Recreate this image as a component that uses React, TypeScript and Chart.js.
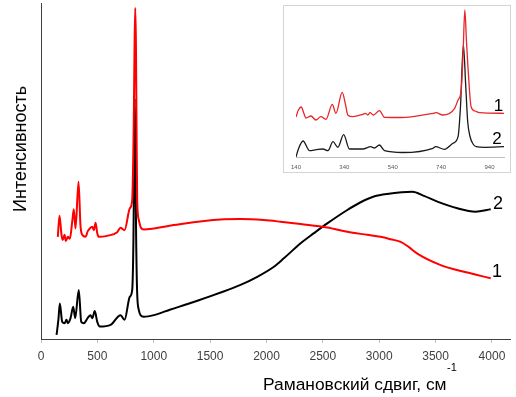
import React, { useEffect, useRef } from "react";
import { Chart, registerables } from "chart.js";

Chart.register(...registerables);

// ---------- Main chart data (Raman shift, cm^-1 ; intensity, arb. units) ----------
const redShift = [149, 164, 182, 193, 209, 220, 238, 256, 277, 291, 306, 333, 350, 366, 395, 415, 433, 454, 469, 484, 499, 513, 587, 676, 705, 741, 788, 809, 823, 830, 836, 842, 847, 853, 868, 883, 912, 1000, 1176, 1593, 1770, 1977, 2125, 2303, 2539, 2717, 2894, 3012, 3101, 3190, 3261, 3338, 3545, 3752, 3989];
const redIntensity = [30.4, 36.7, 31, 29.5, 31, 29.2, 30.4, 29.8, 34.9, 38.6, 32.9, 46.8, 33.9, 31, 30.4, 32.1, 32.9, 33.4, 32.4, 34.6, 31.5, 30.4, 30.7, 31.8, 33.1, 32.4, 38.9, 41.4, 65, 88, 98.5, 88, 65, 41.4, 35.4, 33.4, 32.6, 32.9, 33.9, 35.6, 35.7, 35.4, 34.9, 34.2, 33.2, 31.9, 31, 30.4, 29.7, 28.9, 27.4, 25.4, 22, 20, 18.1];

const blackShift = [138, 155, 167, 188, 209, 226, 238, 262, 286, 303, 335, 357, 380, 415, 439, 454, 477, 499, 522, 617, 706, 741, 788, 809, 820, 826, 832, 838, 844, 853, 868, 883, 912, 1001, 1149, 1326, 1770, 1918, 2066, 2154, 2303, 2421, 2539, 2717, 2835, 2953, 3101, 3200, 3294, 3397, 3516, 3693, 3855, 3989];
const blackIntensity = [1.2, 6, 10.6, 5.1, 4.7, 5.7, 4.7, 6.2, 9.6, 6.2, 14.6, 5.1, 4.7, 6.3, 7.1, 6.2, 8.3, 5.1, 3.7, 4.2, 7.1, 5.7, 12.6, 14.6, 30, 52, 71.6, 52, 30, 13.7, 8.6, 7.1, 6.6, 7.1, 8.8, 10.7, 16.1, 18.5, 21.5, 24, 28.5, 31.5, 34.4, 38.4, 40.7, 42.4, 43.3, 43.7, 43.8, 42.6, 40.9, 38.9, 37.9, 38.6];

const mainTickValues = [0, 500, 1000, 1500, 2000, 2500, 3000, 3500, 4000];

// ---------- Inset data (140–1000 cm^-1) ----------
const insetRedShift = [140, 150, 162, 172, 181, 202, 222, 243, 264, 290, 305, 331, 345, 354, 375, 416, 427, 437, 446, 460, 485, 506, 575, 706, 719, 747, 796, 810, 823, 831, 838, 845, 851, 864, 880, 899, 1000];
const insetRedIntensity = [40, 47, 50, 44, 39, 41, 37, 40.3, 37.7, 52.7, 43.7, 64.7, 52, 42, 40.3, 42.7, 43.7, 42, 44.3, 42, 46.3, 39.7, 39.5, 43.7, 44.3, 42, 48.7, 57, 67, 105, 147, 115, 90, 50.3, 46, 44.3, 43.7];

const insetBlackShift = [140, 150, 169, 196, 224, 251, 272, 293, 313, 337, 361, 416, 449, 464, 485, 506, 581, 706, 717, 754, 789, 810, 820, 832, 842, 850, 860, 872, 885, 920, 1000];
const insetBlackIntensity = [0, 8, 16, 6.3, 7.3, 8, 6.3, 15.3, 9.7, 22.3, 8, 8, 10.3, 9, 12, 6.3, 4.5, 8.7, 10.3, 7.7, 13.7, 20.3, 50, 112, 70, 35, 20, 13, 10.3, 9.7, 10.3];

const insetTickValues = [140, 340, 540, 740, 940];

const seriesLabels = ["1", "2"];

const toPoints = (xs: number[], ys: number[]) => xs.map((x, i) => ({ x, y: ys[i] }));

const FONT = "'Liberation Sans', Arial, sans-serif";

export default function App() {
  const mainRef = useRef<HTMLCanvasElement | null>(null);
  const insetRef = useRef<HTMLCanvasElement | null>(null);

  useEffect(() => {
    const mainChart = new Chart(mainRef.current as HTMLCanvasElement, {
      type: "line",
      data: {
        datasets: [
          {
            label: seriesLabels[0],
            data: toPoints(redShift, redIntensity),
            borderColor: "#ff0000",
            borderWidth: 2,
            pointRadius: 0,
            cubicInterpolationMode: "monotone",
            fill: false,
          },
          {
            label: seriesLabels[1],
            data: toPoints(blackShift, blackIntensity),
            borderColor: "#000000",
            borderWidth: 2,
            pointRadius: 0,
            cubicInterpolationMode: "monotone",
            fill: false,
          },
        ],
      },
      options: {
        animation: false,
        responsive: false,
        devicePixelRatio: 1,
        layout: { padding: { left: 41, top: 3, right: 6, bottom: 0 } },
        plugins: { legend: { display: false }, tooltip: { enabled: false } },
        events: [],
        scales: {
          x: {
            type: "linear",
            min: 0,
            max: 4160,
            afterBuildTicks: (s: any) => {
              s.ticks = mainTickValues.map((v) => ({ value: v }));
            },
            afterFit: (s: any) => {
              s.height = 58;
            },
            ticks: {
              color: "#404040",
              font: { family: FONT, size: 12 },
              padding: 6,
              maxRotation: 0,
              autoSkip: false,
              callback: (v: any) => String(v),
            },
            grid: { drawOnChartArea: false, drawTicks: true, tickLength: 4, color: "#bfbfbf" },
            border: { display: true, color: "#404040", width: 1 },
          },
          y: {
            type: "linear",
            min: 0,
            max: 100,
            ticks: { display: false },
            grid: { drawOnChartArea: false, drawTicks: false },
            border: { display: true, color: "#404040", width: 1 },
            afterFit: (s: any) => {
              s.width = 0;
            },
          },
        },
      },
    } as any);

    const insetChart = new Chart(insetRef.current as HTMLCanvasElement, {
      type: "line",
      data: {
        datasets: [
          {
            label: seriesLabels[0],
            data: toPoints(insetRedShift, insetRedIntensity),
            borderColor: "#e8262a",
            borderWidth: 1.3,
            pointRadius: 0,
            cubicInterpolationMode: "monotone",
            fill: false,
          },
          {
            label: seriesLabels[1],
            data: toPoints(insetBlackShift, insetBlackIntensity),
            borderColor: "#1a1a1a",
            borderWidth: 1.3,
            pointRadius: 0,
            cubicInterpolationMode: "monotone",
            fill: false,
          },
        ],
      },
      options: {
        animation: false,
        responsive: false,
        devicePixelRatio: 1,
        layout: { padding: { left: 12, top: 2, right: 6, bottom: 0 } },
        plugins: { legend: { display: false }, tooltip: { enabled: false } },
        events: [],
        scales: {
          x: {
            type: "linear",
            min: 140,
            max: 1000,
            afterBuildTicks: (s: any) => {
              s.ticks = insetTickValues.map((v) => ({ value: v }));
            },
            afterFit: (s: any) => {
              s.height = 15;
            },
            ticks: {
              color: "#595959",
              font: { family: FONT, size: 6 },
              padding: 7,
              maxRotation: 0,
              autoSkip: false,
              callback: (v: any) => String(v),
            },
            grid: { drawOnChartArea: false, drawTicks: false },
            border: { display: true, color: "#bfbfbf", width: 1 },
          },
          y: {
            type: "linear",
            min: 0,
            max: 149,
            display: false,
          },
        },
      },
    } as any);

    return () => {
      mainChart.destroy();
      insetChart.destroy();
    };
  }, []);

  const textBase: React.CSSProperties = {
    position: "absolute",
    fontFamily: FONT,
    color: "#000",
    whiteSpace: "nowrap",
    margin: 0,
  };

  return (
    <div
      style={{
        position: "fixed",
        left: 0,
        top: 0,
        width: 516,
        height: 397,
        background: "#fff",
        overflow: "hidden",
      }}
    >
      <canvas ref={mainRef} width={516} height={397} style={{ position: "absolute", left: 0, top: 0 }} />
      <div
        style={{
          position: "absolute",
          left: 283,
          top: 5,
          width: 228,
          height: 168,
          boxSizing: "border-box",
          border: "1px solid #d4d4d4",
          background: "#fff",
        }}
      >
        <canvas ref={insetRef} width={226} height={166} style={{ position: "absolute", left: 0, top: 0 }} />
      </div>

      {/* Axis titles */}
      <div
        style={{
          ...textBase,
          left: 20,
          top: 149,
          fontSize: 18,
          lineHeight: "18px",
          transform: "translate(-50%, -50%) rotate(-90deg)",
        }}
      >
        Интенсивность
      </div>
      <div style={{ ...textBase, left: 263, top: 375, fontSize: 17.4, lineHeight: "18px" }}>
        Рамановский сдвиг, см
      </div>
      <div style={{ ...textBase, left: 447, top: 362, fontSize: 11, lineHeight: "11px" }}>-1</div>

      {/* Series labels, main chart */}
      <div style={{ ...textBase, left: 498, top: 203, fontSize: 18, lineHeight: "18px", transform: "translate(-50%, -50%)" }}>
        {seriesLabels[1]}
      </div>
      <div style={{ ...textBase, left: 497, top: 271, fontSize: 18, lineHeight: "18px", transform: "translate(-50%, -50%)" }}>
        {seriesLabels[0]}
      </div>

      {/* Series labels, inset */}
      <div style={{ ...textBase, left: 498.5, top: 105, fontSize: 17, lineHeight: "17px", transform: "translate(-50%, -50%)" }}>
        {seriesLabels[0]}
      </div>
      <div style={{ ...textBase, left: 497, top: 138, fontSize: 17, lineHeight: "17px", transform: "translate(-50%, -50%)" }}>
        {seriesLabels[1]}
      </div>
    </div>
  );
}
